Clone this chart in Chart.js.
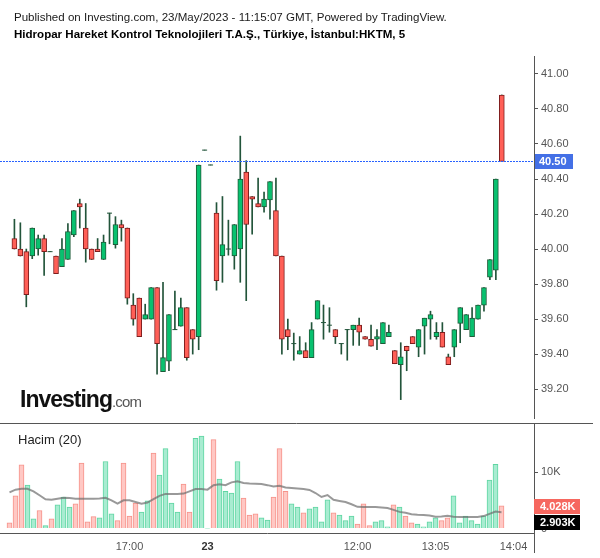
<!DOCTYPE html>
<html><head><meta charset="utf-8">
<script src="https://cdn.jsdelivr.net/npm/chart.js@4.4.0/dist/chart.umd.min.js"></script>
<style>
html,body{margin:0;padding:0;background:#fff;}
body{width:600px;height:558px;position:relative;overflow:hidden;font-family:"Liberation Sans",Arial,sans-serif;}
#h1{position:absolute;left:14px;top:10px;font-size:11.55px;line-height:14px;color:#1a1a1a;white-space:nowrap;}
#h2{position:absolute;left:14px;top:27px;font-size:11.55px;line-height:14px;font-weight:bold;color:#000;white-space:nowrap;}
#c1{position:absolute;left:0;top:0;}
#c2{position:absolute;left:0;top:423px;}
#logo{position:absolute;left:20px;top:388px;white-space:nowrap;line-height:23px;}
#logo .a{font-size:23px;font-weight:bold;letter-spacing:-1px;color:#111;}
#logo .b{font-size:15px;letter-spacing:-0.8px;color:#555;}
#hacim{position:absolute;left:18px;top:432px;font-size:13px;line-height:15px;color:#222;}
</style></head>
<body>
<canvas id="c1" width="600" height="423"></canvas>
<canvas id="c2" width="600" height="135"></canvas>
<div id="h1">Published on Investing.com, 23/May/2023 - 11:15:07 GMT, Powered by TradingView.</div>
<div id="h2">Hidropar Hareket Kontrol Teknolojileri T.A.Ş., Türkiye, İstanbul:HKTM, 5</div>
<div id="logo"><span class="a">Investing</span><span class="b">.com</span></div>
<div id="hacim">Hacim (20)</div>
<script>
// ---- data (5-minute candles) ----
const opens  = [40.06,40.00,39.985,39.96,40.00,40.06,39.985,39.96,39.90,39.94,40.08,40.26,40.12,40.00,40.00,39.94,40.205,40.025,40.14,40.12,39.68,39.72,39.60,39.60,39.78,39.30,39.36,39.54,39.56,39.665,39.54,39.50,40.565,40.48,40.205,39.96,40.00,39.96,40.00,40.44,40.30,40.26,40.24,40.28,40.22,39.96,39.54,39.46,39.40,39.42,39.38,39.60,39.58,39.565,39.54,39.46,39.54,39.54,39.565,39.50,39.485,39.485,39.46,39.50,39.42,39.34,39.445,39.50,39.44,39.56,39.60,39.50,39.525,39.385,39.44,39.575,39.54,39.50,39.60,39.68,39.84,39.88,40.88];
const highs  = [40.17,40.15,40.00,40.12,40.08,40.08,39.985,39.96,40.06,40.145,40.22,40.285,40.26,40.00,40.06,40.08,40.205,40.185,40.165,40.12,39.745,39.72,39.685,39.78,39.78,39.81,39.625,39.76,39.72,39.665,39.54,40.48,40.565,40.48,40.265,40.30,40.165,40.14,40.645,40.505,40.30,40.405,40.325,40.385,40.405,39.96,39.60,39.52,39.50,39.465,39.58,39.705,39.68,39.665,39.54,39.46,39.54,39.565,39.605,39.50,39.565,39.54,39.58,39.565,39.42,39.465,39.445,39.50,39.54,39.605,39.645,39.58,39.58,39.40,39.54,39.665,39.625,39.665,39.68,39.78,39.94,40.40,40.88];
const lows   = [40.00,39.96,39.67,39.945,39.965,39.85,39.985,39.86,39.90,39.94,40.07,40.12,39.925,39.94,39.985,39.94,40.03,40.005,40.045,39.685,39.565,39.50,39.60,39.60,39.285,39.30,39.305,39.54,39.56,39.365,39.40,39.425,40.565,40.48,39.765,39.81,39.965,39.885,39.81,39.705,40.085,40.24,40.21,40.17,39.96,39.40,39.425,39.365,39.40,39.38,39.38,39.60,39.485,39.525,39.46,39.40,39.365,39.45,39.45,39.485,39.445,39.425,39.46,39.50,39.345,39.14,39.305,39.46,39.385,39.40,39.485,39.485,39.44,39.34,39.385,39.465,39.54,39.50,39.60,39.645,39.825,39.825,40.50];
const closes = [40.00,39.96,39.74,40.12,40.06,39.985,39.985,39.86,40.00,40.10,40.22,40.24,40.00,39.94,39.985,40.04,40.205,40.14,40.12,39.72,39.60,39.50,39.625,39.78,39.46,39.38,39.625,39.54,39.665,39.38,39.485,40.48,40.565,40.48,39.82,40.025,40.00,40.14,40.40,40.14,40.285,40.24,40.285,40.385,39.96,39.485,39.50,39.46,39.42,39.38,39.54,39.705,39.58,39.565,39.50,39.46,39.54,39.565,39.525,39.485,39.445,39.50,39.58,39.525,39.345,39.385,39.42,39.46,39.54,39.605,39.625,39.525,39.44,39.34,39.54,39.665,39.625,39.605,39.68,39.78,39.94,40.40,40.50];
// volume in thousands
const volumes = [1.0,5.8,11.3,7.7,1.7,3.2,0.5,1.7,4.2,5.6,3.8,4.4,11.6,1.2,2.1,1.9,11.9,2.6,1.4,11.6,2.2,4.5,2.9,4.9,13.4,9.5,14.2,4.5,2.9,7.9,2.9,16.0,16.4,0.05,15.8,8.8,6.6,6.3,11.9,5.4,2.4,2.6,1.9,1.5,5.6,14.2,6.6,4.4,3.8,2.8,3.5,3.8,1.2,5.1,2.8,2.4,1.4,2.2,0.8,4.4,0.5,1.2,1.4,0.3,4.2,3.8,2.2,1.0,0.8,0.3,1.2,1.9,1.4,1.9,5.8,1.0,2.2,1.4,0.8,2.2,8.6,11.4,4.028];
// 20-period volume moving average (thousands)
const volMA = [6.4,6.9,7.05,7.05,6.6,5.9,5.2,5.1,5.3,5.45,5.4,5.3,5.3,5.3,5.3,5.35,5.45,5.0,4.4,5.0,5.0,4.7,4.4,4.6,5.2,5.8,6.15,6.15,6.15,6.2,6.6,7.0,7.0,6.9,7.7,7.85,7.7,8.2,8.4,8.1,8.0,7.95,7.9,7.7,7.45,7.6,7.3,7.2,7.1,7.0,6.85,6.3,5.6,5.95,5.1,4.9,4.7,4.3,3.85,3.83,3.83,3.8,3.75,3.65,3.3,2.95,2.8,2.55,2.45,2.4,2.3,2.1,2.15,2.25,2.1,2.06,2.06,2.06,2.06,2.2,2.6,3.0,2.903];
const priceTicks = [39.2,39.4,39.6,39.8,40.0,40.2,40.4,40.6,40.8,41.0];
const volTicks = [0,10];
const xTickIndex = [20,33,58,71,84];
const xTickLabels = ['17:00','23','12:00','13:05','14:04'];

// ---- derived ----
const N = opens.length;
const idx = opens.map((_, i) => i);
const up = idx.map(i => closes[i] >= opens[i]);
const X_MIN = -1.5833, X_MAX = 87.4167;
const FONT = '"Liberation Sans", Arial, sans-serif';
const AXIS = '#555';

const G_FILL = '#08c16f', G_LINE = '#1e5b39';
const R_FILL = '#ff5f57', R_LINE = '#7d1d1d';
const WICK = '#22543a';

function yAxisCommon(extra) {
  return Object.assign({
    position: 'right',
    afterFit: s => { s.width = 66; s.paddingTop = 0; s.paddingBottom = 0; },
    grid: { display: true, drawOnChartArea: false, drawTicks: true, tickLength: 4, color: AXIS },
    border: { display: true, color: AXIS, width: 1 },
    ticks: { color: AXIS, font: { size: 11, family: FONT }, padding: 3 }
  }, extra);
}

// ---- price chart ----
const priceLine = {
  id: 'priceLine',
  afterDraw(chart) {
    const { ctx, chartArea } = chart;
    const last = closes[N - 1];
    const y = Math.round(chart.scales.y.getPixelForValue(last));
    ctx.save();
    ctx.fillStyle = '#2962ff';
    for (let x = 0; x < chartArea.right; x += 3) ctx.fillRect(x, y, 2, 1);
    ctx.fillStyle = '#4470e6';
    ctx.fillRect(chartArea.right + 1, y - 7, 38, 15);
    ctx.fillStyle = '#fff';
    ctx.font = 'bold 11px ' + FONT;
    ctx.textBaseline = 'middle';
    ctx.textAlign = 'left';
    ctx.fillText(last.toFixed(2), chartArea.right + 5, y + 1);
    ctx.restore();
  }
};

new Chart(document.getElementById('c1'), {
  type: 'bar',
  data: {
    datasets: [
      {
        type: 'line', label: 'doji',
        data: idx.filter(i => opens[i] === closes[i]).map(i => ({ x: i, y: opens[i] })),
        showLine: false, pointStyle: 'line', pointRadius: 2.5, pointBorderWidth: 1,
        pointBorderColor: WICK, pointBackgroundColor: WICK, order: 1
      },
      {
        label: 'body', data: idx.map(i => ({ x: i, y: [opens[i], closes[i]] })),
        grouped: false, barThickness: 5, borderSkipped: false, borderWidth: 1,
        backgroundColor: c => up[c.dataIndex] ? G_FILL : R_FILL,
        borderColor: c => up[c.dataIndex] ? G_LINE : R_LINE, order: 2
      },
      {
        label: 'wick', data: idx.map(i => ({ x: i, y: [lows[i], highs[i]] })),
        grouped: false, barThickness: 1, borderWidth: 0, backgroundColor: WICK, order: 3
      }
    ]
  },
  options: {
    responsive: false, animation: false,
    layout: { padding: { top: 56, left: 0, right: 0, bottom: 0 } },
    plugins: { legend: { display: false }, tooltip: { enabled: false } },
    scales: {
      x: { type: 'linear', offset: false, min: X_MIN, max: X_MAX, display: false },
      y: yAxisCommon({
        min: 39.035, max: 41.1025,
        afterBuildTicks: s => { s.ticks = priceTicks.map(v => ({ value: v })); },
        ticks: { color: AXIS, font: { size: 11, family: FONT }, padding: 3, callback: v => Number(v).toFixed(2) }
      })
    }
  },
  plugins: [priceLine]
});

// ---- volume chart ----
const volLabels = {
  id: 'volLabels',
  afterDraw(chart) {
    const { ctx, chartArea } = chart;
    const ys = chart.scales.y;
    const r = chartArea.right;
    ctx.save();
    ctx.strokeStyle = AXIS; ctx.lineWidth = 1;
    ctx.beginPath(); ctx.moveTo(0, 0.5); ctx.lineTo(593, 0.5); ctx.stroke();
    ctx.beginPath(); ctx.moveTo(r + 0.5, chartArea.bottom); ctx.lineTo(r + 0.5, 130); ctx.stroke();
    const lastV = volumes[N - 1], lastM = volMA[N - 1];
    const y1 = Math.round(ys.getPixelForValue(lastV));
    const y2 = Math.max(Math.round(ys.getPixelForValue(lastM)), y1 + 16);
    ctx.font = 'bold 11px ' + FONT;
    ctx.textBaseline = 'middle'; ctx.textAlign = 'left';
    ctx.fillStyle = '#f6675f'; ctx.fillRect(r, y1 - 7, 46, 15);
    ctx.fillStyle = '#fff'; ctx.fillText(lastV.toFixed(3) + 'K', r + 6, y1 + 1);
    ctx.fillStyle = '#000'; ctx.fillRect(r, y2 - 7, 46, 15);
    ctx.fillStyle = '#fff'; ctx.fillText(lastM.toFixed(3) + 'K', r + 6, y2 + 1);
    ctx.restore();
  }
};

new Chart(document.getElementById('c2'), {
  type: 'bar',
  data: {
    datasets: [
      {
        type: 'line', label: 'MA', data: idx.map(i => ({ x: i, y: volMA[i] })),
        borderColor: 'rgba(110,110,110,0.7)', borderWidth: 2, pointRadius: 0, tension: 0, order: 1
      },
      {
        label: 'Hacim', data: idx.map(i => ({ x: i, y: volumes[i] })),
        barThickness: 5, borderWidth: 1, borderSkipped: 'start',
        backgroundColor: c => up[c.dataIndex] ? '#a8ecd1' : '#ffc8c4',
        borderColor: c => up[c.dataIndex] ? '#5fd5a2' : '#f6928a', order: 2
      }
    ]
  },
  options: {
    responsive: false, animation: false,
    layout: { padding: 0 },
    plugins: { legend: { display: false }, tooltip: { enabled: false } },
    scales: {
      x: {
        type: 'linear', offset: false, min: X_MIN, max: X_MAX, position: 'bottom',
        afterBuildTicks: s => { s.ticks = xTickIndex.map(v => ({ value: v })); },
        afterFit: s => { s.height = 25; s.paddingLeft = 0; s.paddingRight = 0; },
        grid: { display: false, drawTicks: false, offset: false },
        border: { display: true, color: AXIS, width: 1 },
        ticks: {
          autoSkip: false, maxRotation: 0, padding: 7,
          color: c => xTickLabels[c.index] === '23' ? '#333' : AXIS,
          font: c => ({ size: 11, family: FONT, weight: xTickLabels[c.index] === '23' ? 'bold' : 'normal' }),
          callback: (v, i) => xTickLabels[i]
        }
      },
      y: yAxisCommon({
        min: -0.8, max: 18.74,
        afterBuildTicks: s => { s.ticks = volTicks.map(v => ({ value: v })); },
        ticks: { color: AXIS, font: { size: 11, family: FONT }, padding: 3, callback: v => v === 0 ? '0' : v + 'K' }
      })
    }
  },
  plugins: [volLabels]
});
</script>
</body></html>
